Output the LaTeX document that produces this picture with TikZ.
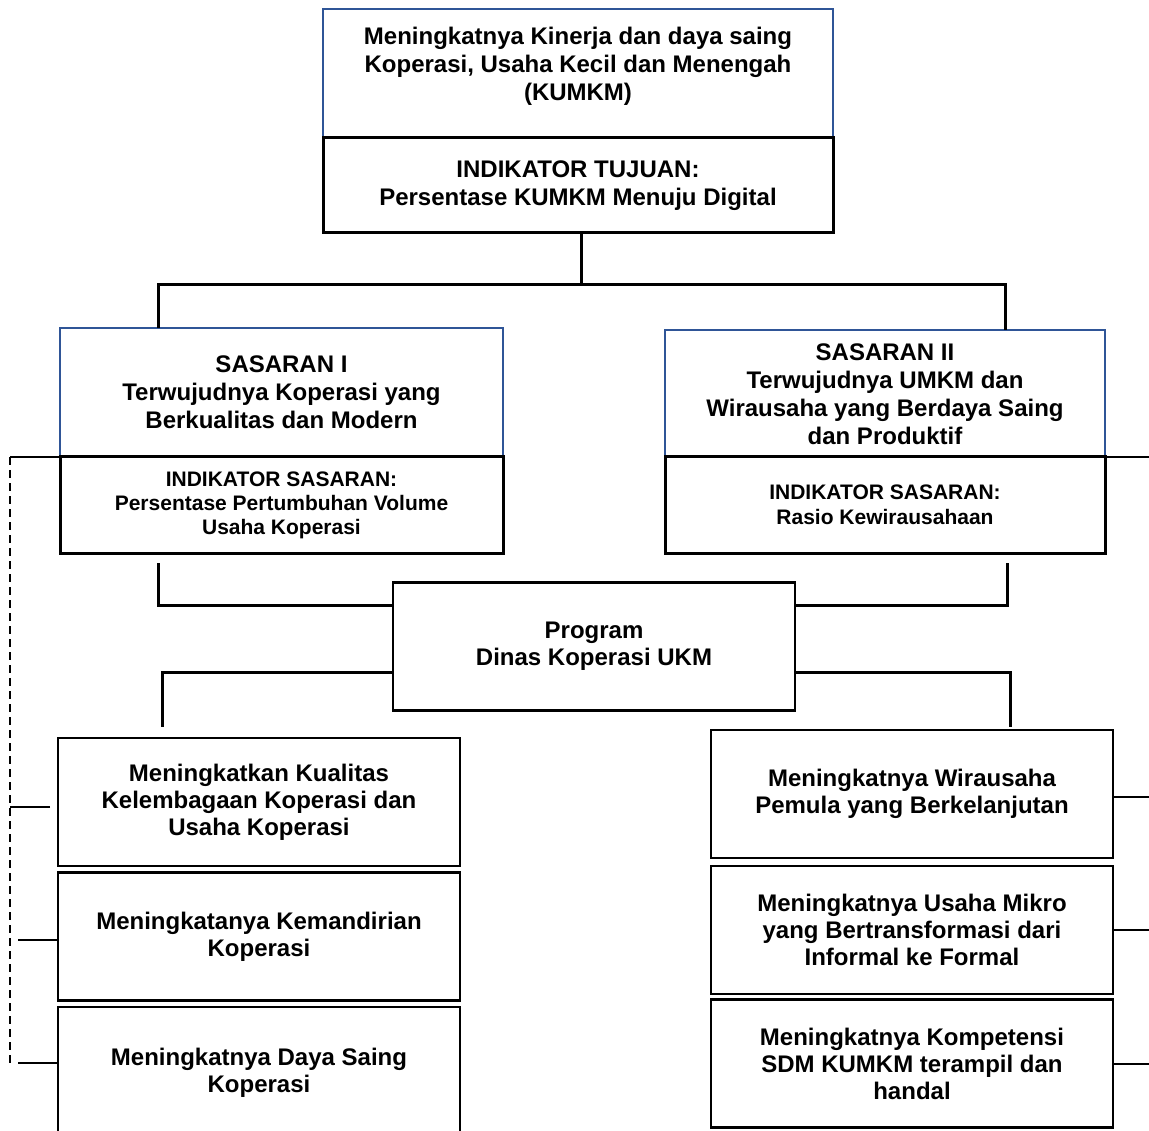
\documentclass[tikz,border=0pt]{standalone}
\usepackage{fontspec}
\setmainfont{Liberation Sans}
\usepackage{tikz}
\usetikzlibrary{positioning}
\usepackage{xcolor}
\definecolor{sasblue}{RGB}{47,85,151}
\tikzset{
    goalbox/.style={
        draw=sasblue,
        line width=1.5pt,
        rectangle,
        fill=white,
        inner sep=0pt,
        outer sep=0pt,
        align=center,
        font=\bfseries\fontsize{24}{28}\selectfont
    },
    indbox/.style={
        draw,
        line width=3pt,
        rectangle,
        fill=white,
        inner sep=0pt,
        outer sep=0pt,
        align=center,
        font=\bfseries\fontsize{24}{28}\selectfont
    },
    prgbox/.style={
        indbox,
        line width=2.5pt,
        minimum width=402pt,
        minimum height=128pt,
        font=\bfseries\fontsize{24}{27}\selectfont
    },
    conn/.style={draw, line width=3pt},
    thinline/.style={draw, line width=1.5pt},
    dashline/.style={draw, line width=2pt, dash pattern=on 8pt off 5pt},
    tickline/.style={draw, line width=2pt}
}

\begin{document}
\begin{tikzpicture}[x=1pt, y=-1pt]
    \useasboundingbox (0,0) rectangle (1149,1131);

    % Tujuan
    \node[goalbox, minimum width=510pt, minimum height=129pt] (goal) at (578,73.5)
        {Meningkatnya Kinerja dan daya saing\\Koperasi, Usaha Kecil dan Menengah\\(KUMKM)\\[-9pt]};
    \node[indbox, minimum width=510pt, minimum height=95pt] (tujuan) at (578,185.5)
        {INDIKATOR TUJUAN:\\Persentase KUMKM Menuju Digital};

    % Sasaran
    \node[goalbox, minimum width=443pt, minimum height=129pt] (sas1) at (281.5,392.5)
        {SASARAN I\\Terwujudnya Koperasi yang\\Berkualitas dan Modern};
    \node[goalbox, minimum width=440pt, minimum height=129pt] (sas2) at (885,394.5)
        {SASARAN II\\Terwujudnya UMKM dan\\Wirausaha yang Berdaya Saing\\dan Produktif};
    \node[indbox, minimum width=443pt, minimum height=96pt,
          font=\bfseries\fontsize{21}{24}\selectfont] (ind1) at (281.5,505)
        {INDIKATOR SASARAN:\\Persentase Pertumbuhan Volume\\Usaha Koperasi};
    \node[indbox, minimum width=440pt, minimum height=96pt,
          font=\bfseries\fontsize{21}{25}\selectfont] (ind2) at (885,505)
        {INDIKATOR SASARAN:\\Rasio Kewirausahaan};

    % Program
    \node[prgbox] (prog) at (594,646.5) {Program\\Dinas Koperasi UKM};

    % Kegiatan kiri
    \node[prgbox] (lbox1) at (259,802) {Meningkatkan Kualitas\\Kelembagaan Koperasi dan\\Usaha Koperasi};
    \node[prgbox] (lbox2) at (259,936.5) {Meningkatanya Kemandirian\\Koperasi};
    \node[prgbox, minimum height=132pt] (lbox3) at (259,1073) {Meningkatnya Daya Saing\\Koperasi};

    % Kegiatan kanan
    \node[prgbox] (rbox1) at (912,794) {Meningkatnya Wirausaha\\Pemula yang Berkelanjutan};
    \node[prgbox] (rbox2) at (912,930) {Meningkatnya Usaha Mikro\\yang Bertransformasi dari\\Informal ke Formal};
    \node[prgbox] (rbox3) at (912,1063.5) {Meningkatnya Kompetensi\\SDM KUMKM terampil dan\\handal};

    % Garis penghubung
    \draw[conn] ([xshift=3pt]tujuan.south) -- ++(0,52) coordinate (hub);
    \draw[conn] ([xshift=-123.5pt]sas1.north) |- (hub) -| ([xshift=120pt]sas2.north);
    \draw[conn] ([xshift=-123.5pt,yshift=-10pt]ind1.south) |- ([yshift=41.5pt]prog.west);
    \draw[conn] ([xshift=122pt,yshift=-10pt]ind2.south) |- ([yshift=41.5pt]prog.east);
    \draw[conn] ([yshift=-25.5pt]prog.west) -| ([xshift=-97pt,yshift=11pt]lbox1.north);
    \draw[conn] ([yshift=-25.5pt]prog.east) -| ([xshift=98pt,yshift=3pt]rbox1.north);

    % Garis tepi kiri
    \draw[thinline] (ind1.north west) -- ++(-50,0) coordinate (dtop);
    \draw[dashline] (dtop) -- ++(0,610);
    \draw[tickline] ([xshift=-8pt,yshift=-5pt]lbox1.west) -- ++(-40,0);
    \draw[tickline] ([yshift=-3.5pt]lbox2.west) -- ++(-40,0);
    \draw[tickline] ([yshift=10pt]lbox3.west) -- ++(-40,0);

    % Garis tepi kanan
    \draw[thinline] (ind2.north east) -- ++(44,0);
    \draw[tickline] ([yshift=-3pt]rbox1.east) -- ++(36,0);
    \draw[tickline] (rbox2.east) -- ++(36,0);
    \draw[tickline] (rbox3.east) -- ++(36,0);
\end{tikzpicture}
\end{document}
